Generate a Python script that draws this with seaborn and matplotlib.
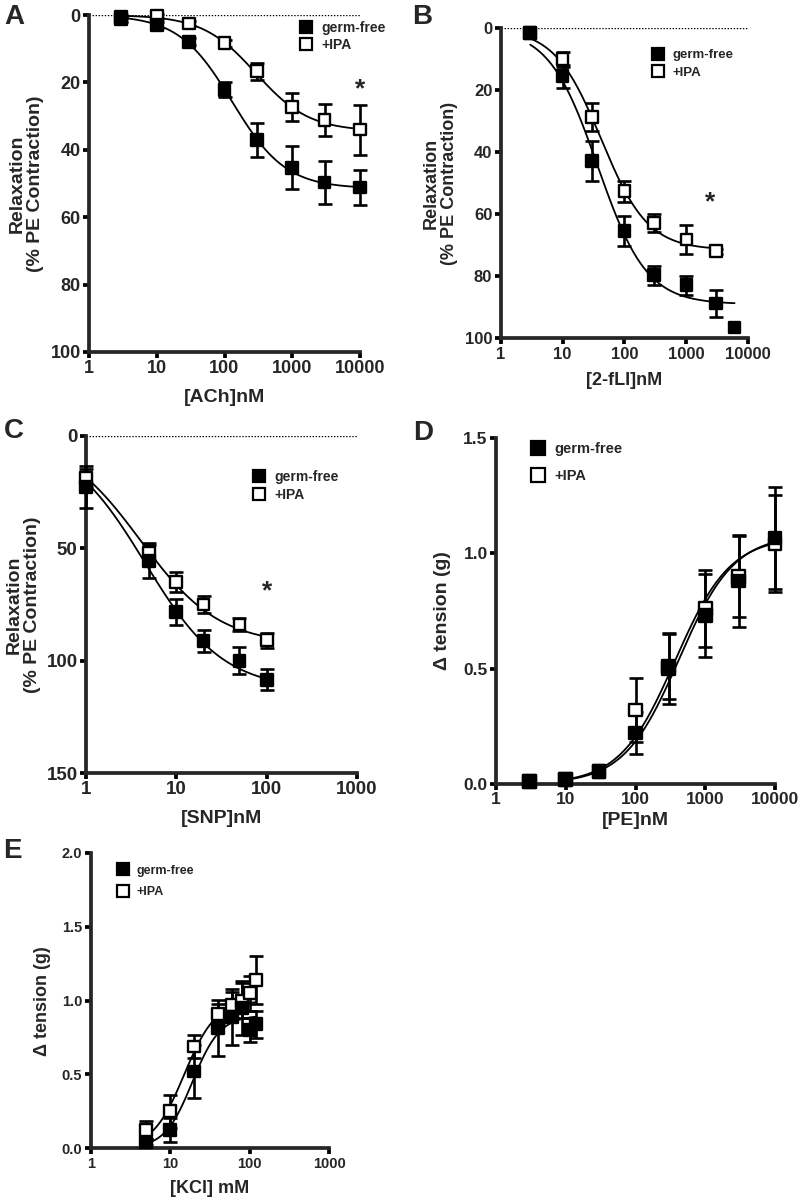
import numpy as np
import pandas as pd
import seaborn as sns
import matplotlib.pyplot as plt
from matplotlib.lines import Line2D
from matplotlib.ticker import NullLocator

# ---- data --------------------------------------------------------------
# A: acetylcholine
ach_nM = [3, 10, 30, 100, 300, 1000, 3000, 10000]
ach_gf = [1.3, 3.0, 7.9, 22.2, 37.0, 45.3, 49.7, 51.2]
ach_gf_err = [0.8, 0.8, 1.0, 2.2, 5.0, 6.3, 6.5, 5.2]
ach_ipa = [0.5, 0.3, 2.5, 8.4, 16.7, 27.3, 31.2, 34.0]
ach_ipa_err = [0.5, 0.5, 0.8, 1.0, 2.5, 4.3, 4.8, 7.4]
ach_gf_fit = (0.0, 51.5, 130, 1.1)     # bottom, top, EC50, hill
ach_ipa_fit = (0.0, 34.5, 290, 1.1)

# B: 2-fLI
fli_gf_nM = [3, 10, 30, 100, 300, 1000, 3000, 6000]
fli_gf = [1.6, 15.5, 42.7, 65.4, 79.7, 82.9, 88.8, 96.5]
fli_gf_err = [0.0, 3.6, 6.4, 4.9, 3.0, 3.0, 4.4, 0.0]
fli_ipa_nM = [3, 10, 30, 100, 300, 1000, 3000]
fli_ipa = [1.6, 10.0, 28.6, 52.6, 62.7, 68.1, 71.9]
fli_ipa_err = [0.0, 2.4, 4.6, 3.5, 2.9, 4.6, 0.8]
fli_gf_fit = (0.0, 89, 37, 1.1)
fli_ipa_fit = (0.0, 71.5, 42, 1.15)

# C: SNP
snp_nM = [1, 5, 10, 20, 50, 100]
snp_gf = [22.8, 55.6, 78.4, 91.3, 100.1, 108.5]
snp_gf_err = [9.5, 7.7, 5.7, 5.0, 6.0, 4.8]
snp_ipa = [18.8, 51.9, 65.1, 75.1, 84.0, 90.9]
snp_ipa_err = [4.0, 3.5, 4.3, 3.7, 3.0, 3.3]
snp_gf_fit = (0.0, 113, 4.5, 1.0)
snp_ipa_fit = (0.0, 93, 4.0, 1.0)

# D: phenylephrine
pe_nM = [3, 10, 30, 100, 300, 1000, 3000, 10000]
pe_gf = [0.01, 0.02, 0.055, 0.22, 0.50, 0.73, 0.88, 1.065]
pe_gf_err = [0.0, 0.0, 0.0, 0.09, 0.155, 0.18, 0.20, 0.22]
pe_ipa = [0.01, 0.02, 0.055, 0.32, 0.51, 0.76, 0.90, 1.04]
pe_ipa_err = [0.0, 0.0, 0.0, 0.14, 0.14, 0.165, 0.175, 0.21]
pe_gf_fit = (0.0, 1.08, 420, 1.1)
pe_ipa_fit = (0.0, 1.07, 370, 1.1)

# E: KCl
kcl_mM = [5, 10, 20, 40, 60, 80, 100, 120]
kcl_gf = [0.04, 0.125, 0.52, 0.815, 0.89, 0.95, 0.80, 0.84]
kcl_gf_err = [0.02, 0.08, 0.18, 0.19, 0.19, 0.18, 0.08, 0.09]
kcl_ipa = [0.125, 0.25, 0.69, 0.91, 0.97, 1.00, 1.05, 1.14]
kcl_ipa_err = [0.06, 0.11, 0.08, 0.07, 0.09, 0.12, 0.12, 0.16]
kcl_gf_fit = (0.0, 0.90, 19, 2.5)
kcl_ipa_fit = (0.0, 1.00, 15, 2.2)

groups = ["+IPA", "germ-free"]
W, H = 800, 1198

sns.set_theme(style="ticks")
plt.rcParams["font.family"] = ["Liberation Sans", "DejaVu Sans"]
plt.rcParams["font.weight"] = "bold"
plt.rcParams["axes.labelweight"] = "bold"

fig = plt.figure(figsize=(W / 100, H / 100), dpi=100)


def px_axes(box):
    x0, x1, y0, y1 = box
    return fig.add_axes([x0 / W, 1 - y1 / H, (x1 - x0) / W, (y1 - y0) / H])


def logistic(x, p):
    bottom, top, ec50, hill = p
    return bottom + (top - bottom) / (1 + (ec50 / x) ** hill)


def panel(box, xs, ys, errs, fits, fit_ranges, xlim, xticks, ylim, yticks,
          ylabels, xlabel, ylabel, tick_fs, label_fs, xl_top, yl_right, ms=72):
    ax = px_axes(box)
    x0, x1, y0, y1 = box

    # fitted curves
    curve = []
    for g, p, (lo, hi) in zip(groups, fits, fit_ranges):
        xx = np.logspace(np.log10(lo), np.log10(hi), 200)
        curve.append(pd.DataFrame({"conc": xx, "value": logistic(xx, p), "group": g}))
    curve = pd.concat(curve)
    sns.lineplot(data=curve, x="conc", y="value", hue="group", estimator=None,
                 palette={"germ-free": "black", "+IPA": "black"}, lw=1.3,
                 legend=False, zorder=2, ax=ax)

    pts = pd.concat([pd.DataFrame({"conc": x, "value": y, "err": e, "group": g})
                     for g, x, y, e in zip(groups, xs, ys, errs)])
    for g in groups:
        d = pts[(pts.group == g) & (pts.err > 0)]
        ax.errorbar(d.conc, d.value, yerr=d.err, fmt="none", ecolor="black",
                    elinewidth=1.9, capsize=5.2, capthick=1.9, zorder=3, clip_on=False)
    sns.scatterplot(data=pts, x="conc", y="value", hue="group", marker="s", s=ms,
                    palette={"germ-free": "black", "+IPA": "white"},
                    edgecolor="black", linewidth=1.7, legend=False, zorder=4,
                    clip_on=False, ax=ax)

    ax.set_xscale("log")
    ax.set_xlim(*xlim)
    ax.set_ylim(*ylim)
    ax.set_xticks(xticks, [str(t) for t in xticks])
    ax.xaxis.set_minor_locator(NullLocator())
    ax.set_yticks(yticks, ylabels)
    sns.despine(ax=ax)
    for s in ["left", "bottom"]:
        ax.spines[s].set_linewidth(2.7)
    ax.tick_params(width=2.7, length=4, labelsize=tick_fs, pad=2, color="black")
    ax.set_xlabel(xlabel, fontsize=label_fs)
    ax.set_ylabel(ylabel, fontsize=label_fs, linespacing=1.1)
    ax.xaxis.set_label_coords(0.5, -(xl_top - y1) / (y1 - y0))
    ax.yaxis.set_label_coords(-(x0 - yl_right) / (x1 - x0), 0.5)
    return ax


def add_legend(ax, mx, my, fs, gap, ms):
    handles = [Line2D([], [], marker="s", ls="none", ms=ms, mfc="black", mec="black", mew=1.6),
               Line2D([], [], marker="s", ls="none", ms=ms, mfc="white", mec="black", mew=1.6)]
    fs_px = fs * 100 / 72
    row_h = fs_px * 1.15
    left = mx - 0.5 * fs_px
    top = my - row_h / 2
    ax.legend(handles, ["germ-free", "+IPA"], loc="upper left", frameon=False,
              bbox_to_anchor=(left / W, 1 - top / H), bbox_transform=fig.transFigure,
              borderpad=0, borderaxespad=0, handlelength=1.0, handletextpad=0.6,
              labelspacing=(gap - row_h) / fs_px, prop={"size": fs, "weight": "bold"})


def letter(x, y, s):
    fig.text(x / W, 1 - y / H, s, fontsize=20, fontweight="bold", ha="left", va="top")


def zero_line(ax):
    ax.axhline(0, color="black", lw=1.0, ls=(0, (1, 1.2)), zorder=1)


rel_label = "Relaxation\n(% PE Contraction)"

# A
axA = panel((89, 360, 15, 352), [ach_nM, ach_nM], [ach_ipa, ach_gf], [ach_ipa_err, ach_gf_err],
            [ach_ipa_fit, ach_gf_fit], [(3, 10000), (3, 10000)],
            (1, 10000), [1, 10, 100, 1000, 10000], (100, 0), [0, 20, 40, 60, 80, 100],
            ["0", "20", "40", "60", "80", "100"], "[ACh]nM", rel_label, 13, 14, 389, 44)
zero_line(axA)
axA.text(10000, 22, "*", fontsize=19, fontweight="bold", ha="center", va="center")
add_legend(axA, 306, 29.3, 10, 19, 8.5)
letter(4, 4, "A")

# B
axB = panel((500.7, 748.3, 28.3, 338.3), [fli_ipa_nM, fli_gf_nM], [fli_ipa, fli_gf],
            [fli_ipa_err, fli_gf_err], [fli_ipa_fit, fli_gf_fit], [(3, 3000), (3, 6000)],
            (1, 10000), [1, 10, 100, 1000, 10000], (100, 0), [0, 20, 40, 60, 80, 100],
            ["0", "20", "40", "60", "80", "100"], "[2-fLI]nM", rel_label, 12, 13, 372, 458)
zero_line(axB)
axB.text(2400, 56, "*", fontsize=19, fontweight="bold", ha="center", va="center")
add_legend(axB, 658, 56.7, 9.5, 20.6, 8.5)
letter(412, 4, "B")

# C
axC = panel((86, 357, 435.7, 773), [snp_nM, snp_nM], [snp_ipa, snp_gf], [snp_ipa_err, snp_gf_err],
            [snp_ipa_fit, snp_gf_fit], [(1, 100), (1, 100)],
            (1, 1000), [1, 10, 100, 1000], (150, 0), [0, 50, 100, 150],
            ["0", "50", "100", "150"], "[SNP]nM", rel_label, 13.5, 14, 810, 41)
zero_line(axC)
axC.text(100, 69, "*", fontsize=19, fontweight="bold", ha="center", va="center")
add_legend(axC, 259, 477.7, 10, 20.6, 8.5)
letter(4, 418, "C")

# D
axD = panel((496, 775, 437.7, 784), [pe_nM, pe_nM], [pe_ipa, pe_gf], [pe_ipa_err, pe_gf_err],
            [pe_ipa_fit, pe_gf_fit], [(10, 10000), (10, 10000)],
            (1, 10000), [1, 10, 100, 1000, 10000], (0, 1.5), [0, 0.5, 1.0, 1.5],
            ["0.0", "0.5", "1.0", "1.5"], "[PE]nM", "Δ tension (g)", 12.5, 14, 812, 451, ms=82)
add_legend(axD, 538, 450, 10.5, 30, 10)
letter(413, 420, "D")

# E
axE = panel((90.7, 329.3, 853, 1148.3), [kcl_mM, kcl_mM], [kcl_ipa, kcl_gf], [kcl_ipa_err, kcl_gf_err],
            [kcl_ipa_fit, kcl_gf_fit], [(5, 120), (5, 120)],
            (1, 1000), [1, 10, 100, 1000], (0, 2.0), [0, 0.5, 1.0, 1.5, 2.0],
            ["0.0", "0.5", "1.0", "1.5", "2.0"], "[KCl] mM", "Δ tension (g)", 10.5, 13, 1180, 51)
add_legend(axE, 123, 871.7, 9, 24.3, 8.5)
letter(3, 838, "E")

fig.savefig("out.png", dpi=100)
